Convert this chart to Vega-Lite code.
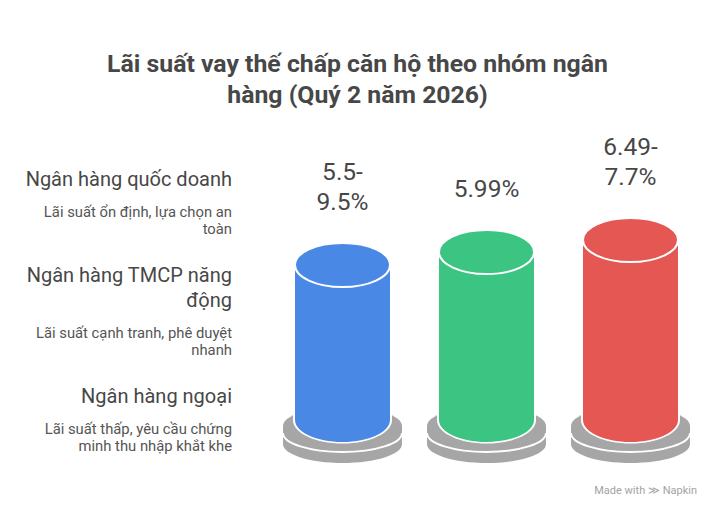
{
  "$schema": "https://vega.github.io/schema/vega-lite/v6.json",
  "width": 715,
  "height": 393,
  "padding": {"left": 0, "right": 0, "top": 120, "bottom": 0},
  "autosize": "none",
  "background": "white",
  "config": {"view": {"stroke": null}, "font": "Roboto"},
  "title": {
    "text": ["Lãi suất vay thế chấp căn hộ theo nhóm ngân", "hàng (Quý 2 năm 2026)"],
    "font": "Roboto",
    "fontSize": 24.8,
    "fontWeight": "bold",
    "color": "#474747",
    "lineHeight": 31,
    "anchor": "middle",
    "frame": "group",
    "offset": 12
  },
  "datasets": {
    "nhom": [
      {"nhom": "Ngân hàng quốc doanh", "nhan": "Ngân hàng quốc doanh", "so_dong": 1, "mo_ta": "Lãi suất ổn định, lựa chọn an\ntoàn", "lai_suat_tren": "5.5-", "lai_suat_duoi": "9.5%", "chieu_cao": 7.75},
      {"nhom": "Ngân hàng TMCP năng động", "nhan": "Ngân hàng TMCP năng\nđộng", "so_dong": 2, "mo_ta": "Lãi suất cạnh tranh, phê duyệt\nnhanh", "lai_suat_tren": "", "lai_suat_duoi": "5.99%", "chieu_cao": 8.4},
      {"nhom": "Ngân hàng ngoại", "nhan": "Ngân hàng ngoại", "so_dong": 1, "mo_ta": "Lãi suất thấp, yêu cầu chứng\nminh thu nhập khắt khe", "lai_suat_tren": "6.49-", "lai_suat_duoi": "7.7%", "chieu_cao": 9.0}
    ],
    "footer": [{"t": "Made with ≫ Napkin"}]
  },
  "data": {"name": "nhom"},
  "layer": [
    {
      "encoding": {
        "x": {"field": "nhom", "type": "nominal", "axis": null,
          "scale": {"type": "point", "padding": 0, "domain": ["Ngân hàng quốc doanh", "Ngân hàng TMCP năng động", "Ngân hàng ngoại"], "range": [342.5, 630.5]}}
      },
      "layer": [
        {"mark": {"type": "point", "shape": "M-1,0A1,0.319,0,1,0,1,0A1,0.319,0,1,0,-1,0Z", "size": 14161, "filled": true, "opacity": 1, "color": "#a6a6a6", "strokeWidth": 0},
         "encoding": {"y": {"datum": -1.2, "type": "quantitative", "axis": null, "scale": {"domain": [-4.65, 15], "nice": false, "zero": false}}}},
        {"mark": {"type": "bar", "width": 119, "color": "#a6a6a6"},
         "encoding": {"y": {"datum": -0.8, "type": "quantitative", "axis": null, "scale": {"domain": [-4.65, 15], "nice": false, "zero": false}}, "y2": {"datum": -1.2}}},
        {"mark": {"type": "point", "shape": "M-1,0A1,0.319,0,1,0,1,0A1,0.319,0,1,0,-1,0Z", "size": 14161, "filled": true, "opacity": 1, "color": "#a6a6a6", "stroke": "white", "strokeWidth": 2},
         "encoding": {"y": {"datum": -0.65, "type": "quantitative", "axis": null, "scale": {"domain": [-4.65, 15], "nice": false, "zero": false}}}},
        {"mark": {"type": "bar", "width": 119, "color": "#a6a6a6"},
         "encoding": {"y": {"datum": -0.3, "type": "quantitative", "axis": null, "scale": {"domain": [-4.65, 15], "nice": false, "zero": false}}, "y2": {"datum": -0.65}}},
        {"mark": {"type": "point", "shape": "M-1,0A1,0.319,0,1,0,1,0A1,0.319,0,1,0,-1,0Z", "size": 14161, "filled": true, "opacity": 1, "color": "#a6a6a6", "strokeWidth": 0},
         "encoding": {"y": {"datum": -0.3, "type": "quantitative", "axis": null, "scale": {"domain": [-4.65, 15], "nice": false, "zero": false}}}},
        {"mark": {"type": "bar", "width": 99, "color": "white"},
         "encoding": {"y": {"field": "chieu_cao", "type": "quantitative", "axis": null, "scale": {"domain": [-4.65, 15], "nice": false, "zero": false}}, "y2": {"datum": 0}}},
        {"mark": {"type": "point", "shape": "M-1,0A1,0.475,0,1,0,1,0A1,0.475,0,1,0,-1,0Z", "size": 9801, "filled": true, "opacity": 1, "color": "white", "strokeWidth": 0},
         "encoding": {"y": {"datum": 0, "type": "quantitative", "axis": null, "scale": {"domain": [-4.65, 15], "nice": false, "zero": false}}}},
        {"mark": {"type": "bar", "width": 95},
         "encoding": {"y": {"field": "chieu_cao", "type": "quantitative", "axis": null, "scale": {"domain": [-4.65, 15], "nice": false, "zero": false}}, "y2": {"datum": 0},
           "color": {"field": "nhom", "type": "nominal", "legend": null, "scale": {"domain": ["Ngân hàng quốc doanh", "Ngân hàng TMCP năng động", "Ngân hàng ngoại"], "range": ["#4a88e6", "#3cc482", "#e45753"]}}}},
        {"mark": {"type": "point", "shape": "M-1,0A1,0.463,0,1,0,1,0A1,0.463,0,1,0,-1,0Z", "size": 9025, "filled": true, "opacity": 1, "strokeWidth": 0},
         "encoding": {"y": {"datum": 0, "type": "quantitative", "axis": null, "scale": {"domain": [-4.65, 15], "nice": false, "zero": false}},
           "color": {"field": "nhom", "type": "nominal", "legend": null}}},
        {"mark": {"type": "point", "shape": "M-1,0A1,0.463,0,1,0,1,0A1,0.463,0,1,0,-1,0Z", "size": 9025, "filled": true, "opacity": 1, "stroke": "white", "strokeWidth": 2},
         "encoding": {"y": {"field": "chieu_cao", "type": "quantitative", "axis": null, "scale": {"domain": [-4.65, 15], "nice": false, "zero": false}},
           "color": {"field": "nhom", "type": "nominal", "legend": null}}},
        {"mark": {"type": "text", "baseline": "bottom", "align": "center", "dy": -50, "fontSize": 24.5, "color": "#474747", "font": "Roboto"},
         "encoding": {"y": {"field": "chieu_cao", "type": "quantitative", "axis": null, "scale": {"domain": [-4.65, 15], "nice": false, "zero": false}},
           "text": {"field": "lai_suat_duoi"}}},
        {"mark": {"type": "text", "baseline": "bottom", "align": "center", "dy": -80, "fontSize": 24.5, "color": "#474747", "font": "Roboto"},
         "encoding": {"y": {"field": "chieu_cao", "type": "quantitative", "axis": null, "scale": {"domain": [-4.65, 15], "nice": false, "zero": false}},
           "text": {"field": "lai_suat_tren"}}}
      ]
    },
    {
      "encoding": {
        "y": {"field": "nhom", "type": "nominal", "axis": null,
          "scale": {"type": "point", "padding": 0, "domain": ["Ngân hàng quốc doanh", "Ngân hàng TMCP năng động", "Ngân hàng ngoại"], "range": [76.2, 293.2]}}
      },
      "layer": [
        {"mark": {"type": "text", "align": "right", "baseline": "middle", "dx": -125.5, "fontSize": 20, "color": "#474747", "lineBreak": "\n", "lineHeight": 25, "font": "Roboto"},
         "encoding": {"text": {"field": "nhan"},
           "yOffset": {"field": "so_dong", "type": "quantitative", "scale": {"domain": [1, 2], "range": [-16.5, -29]}}}},
        {"mark": {"type": "text", "align": "right", "baseline": "middle", "dx": -125.5, "fontSize": 14.8, "color": "#555555", "lineBreak": "\n", "lineHeight": 17.5, "font": "Roboto"},
         "encoding": {"text": {"field": "mo_ta"},
           "yOffset": {"field": "so_dong", "type": "quantitative", "scale": {"domain": [1, 2], "range": [16.5, 29]}}}}
      ],
      "resolve": {"scale": {"yOffset": "independent"}}
    },
    {
      "data": {"name": "footer"},
      "mark": {"type": "text", "align": "right", "baseline": "middle", "dx": 339.5, "dy": 174.5, "fontSize": 11, "color": "#a3a3a3", "font": "Roboto"},
      "encoding": {"text": {"field": "t"}}
    }
  ],
  "resolve": {"scale": {"y": "independent", "x": "independent"}}
}
